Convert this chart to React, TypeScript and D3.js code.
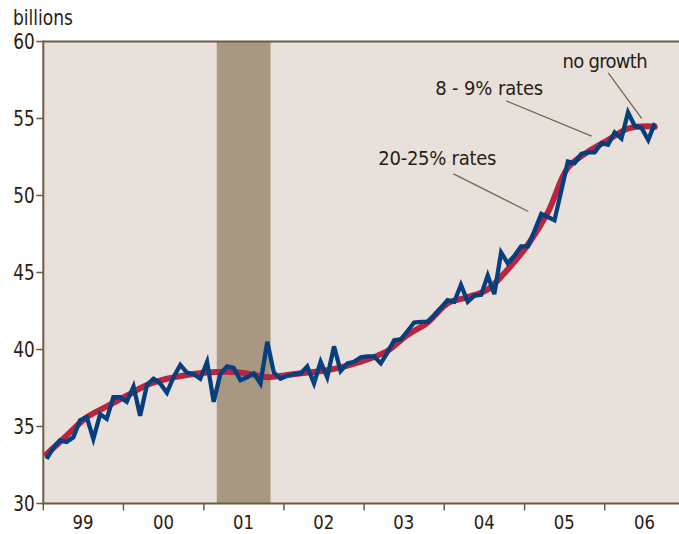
import * as d3 from 'd3'

const W = 679
const H = 534

// monthly series, Jan 1999 .. Aug 2006 (billions)
const actual = [
  32.9, 33.6, 34.1, 34.0, 34.3, 35.4, 35.6, 34.2, 35.8, 35.5, 36.9, 36.9,
  36.6, 37.6, 35.7, 37.7, 38.1, 37.8, 37.2, 38.2, 39.0, 38.5, 38.4, 38.1,
  39.2, 36.6, 38.4, 38.9, 38.8, 38.0, 38.2, 38.45, 37.8, 40.5, 38.5, 38.1,
  38.3, 38.4, 38.45, 38.9, 37.8, 39.2, 38.2, 40.2, 38.6, 39.1, 39.2, 39.5,
  39.55, 39.55, 39.1, 39.8, 40.6, 40.65, 41.2, 41.75, 41.8, 41.8, 42.2, 42.7,
  43.2, 43.1, 44.2, 43.1, 43.5, 43.55, 44.8, 43.6, 46.3, 45.6, 46.1, 46.7,
  46.7, 47.7, 48.8, 48.6, 48.4, 50.3, 52.2, 52.1, 52.7, 52.8, 52.8, 53.4,
  53.3, 54.1, 53.7, 55.4, 54.5, 54.4, 53.6, 54.7,
]

// smoothed trend, read at quarterly points (month index from Jan 1999)
const trendMonths = [0, 3, 6, 9, 12, 15, 18, 21, 24, 27, 30, 33, 36, 39, 42, 45,
  48, 51, 54, 57, 60, 63, 66, 69, 72, 75, 78, 81, 84, 87, 90, 91]
const trendValues = [33.2, 34.4, 35.6, 36.3, 37.0, 37.7, 38.1, 38.35, 38.5, 38.55,
  38.45, 38.2, 38.35, 38.5, 38.65, 38.95, 39.35, 39.9, 40.95, 41.75, 43.0, 43.4,
  43.9, 45.2, 46.8, 48.9, 51.8, 52.85, 53.6, 54.35, 54.5, 54.45]

const yearLabels = ['99', '00', '01', '02', '03', '04', '05', '06']
const yTicks = [30, 35, 40, 45, 50, 55, 60]
const recession = [new Date(2001, 2, 1), new Date(2001, 10, 1)]

// annotations: text anchor and leader line, in (month index, value)
const notes = [
  { text: 'no growth', tm: 77.2, tv: 58.28, len: 85, from: [84.05, 57.97], to: [89.03, 55.01] },
  { text: '8 - 9% rates', tm: 58.16, tv: 56.53, len: 108, from: [68.8, 56.14], to: [81.55, 53.86] },
  { text: '20-25% rates', tm: 49.63, tv: 51.98, len: 118, from: [60.86, 51.4], to: [72.08, 48.96] },
]

const FONT = "'Liberation Sans Narrow', 'DejaVu Sans Condensed', 'Liberation Sans', sans-serif"
const INK = '#2a1d12'
const AXIS = '#6f5b43'

const monthDate = (m: number) => new Date(1999, 0, 1 + Math.round(m * 30.44 + 15))

export default function App() {
  const left = 43.3
  const top = 41.5
  const bottom = 503.5

  const x = d3.scaleTime()
    .domain([new Date(1999, 0, 1), new Date(2007, 0, 1)])
    .range([left, left + 8 * 80.2])
  const y = d3.scaleLinear().domain([30, 60]).range([bottom, top])

  const actualLine = d3.line<number>()
    .x((_, i) => x(monthDate(i)))
    .y((d) => y(d))

  const trendLine = d3.line<number>()
    .x((_, i) => x(monthDate(trendMonths[i])))
    .y((d) => y(d))
    .curve(d3.curveCatmullRom)

  const yearStarts = yearLabels.map((_, i) => new Date(1999 + i, 0, 1))

  return (
    <div style={{ position: 'absolute', left: 0, top: 0 }}>
      <style>{'body{margin:0}'}</style>
      <svg width={W} height={H} style={{ display: 'block', background: '#ffffff' }}>
        {/* plot area */}
        <rect x={left} y={top} width={W - left} height={bottom - top} fill="#e8e1db" />
        <rect
          x={x(recession[0])} y={top}
          width={x(recession[1]) - x(recession[0])} height={bottom - top}
          fill="#a89781"
        />

        {/* trend + actual */}
        <path d={trendLine(trendValues) ?? ''} fill="none" stroke="#b9243f" strokeWidth={6}
          strokeLinecap="round" strokeLinejoin="round" />
        <path d={actualLine(actual) ?? ''} fill="none" stroke="#063f7e" strokeWidth={4.3}
          strokeLinejoin="miter" />

        {/* frame */}
        <line x1={left} x2={W} y1={top} y2={top} stroke={AXIS} strokeWidth={2} />
        <line x1={left} x2={left} y1={top - 1} y2={bottom + 1} stroke={AXIS} strokeWidth={2} />
        <line x1={left - 1} x2={W} y1={bottom} y2={bottom} stroke={AXIS} strokeWidth={2} />

        {/* y axis */}
        {yTicks.map((t) => (
          <g key={t}>
            <line x1={left - 7} x2={left} y1={y(t)} y2={y(t)} stroke={AXIS} strokeWidth={1.5} />
            <text x={left - 8.5} y={y(t) + 7.5} textAnchor="end" textLength={21.5} lengthAdjust="spacingAndGlyphs"
              style={{ fontSize: 20.5, fill: INK, fontFamily: FONT }}>
              {t}
            </text>
          </g>
        ))}
        <text x={13} y={25} textLength={60} lengthAdjust="spacingAndGlyphs"
          style={{ fontSize: 20.5, fill: INK, fontFamily: FONT }}>
          billions
        </text>

        {/* x axis */}
        {yearStarts.map((d, i) => (
          <g key={i}>
            <line x1={x(d)} x2={x(d)} y1={bottom} y2={bottom + 7} stroke={AXIS} strokeWidth={1.5} />
            <text x={x(d3.timeMonth.offset(d, 6)) - 10.5} y={529} textLength={21} lengthAdjust="spacingAndGlyphs"
              style={{ fontSize: 19.5, fill: INK, fontFamily: FONT }}>
              {yearLabels[i]}
            </text>
          </g>
        ))}

        {/* annotations */}
        {notes.map((n) => (
          <g key={n.text}>
            <line
              x1={x(monthDate(n.from[0]))} y1={y(n.from[1])}
              x2={x(monthDate(n.to[0]))} y2={y(n.to[1])}
              stroke="#7a6448" strokeWidth={1.3}
            />
            <text x={x(monthDate(n.tm))} y={y(n.tv)} textLength={n.len} lengthAdjust="spacing"
              style={{ fontSize: 20, fill: INK, fontFamily: FONT }}>
              {n.text}
            </text>
          </g>
        ))}
      </svg>
    </div>
  )
}
